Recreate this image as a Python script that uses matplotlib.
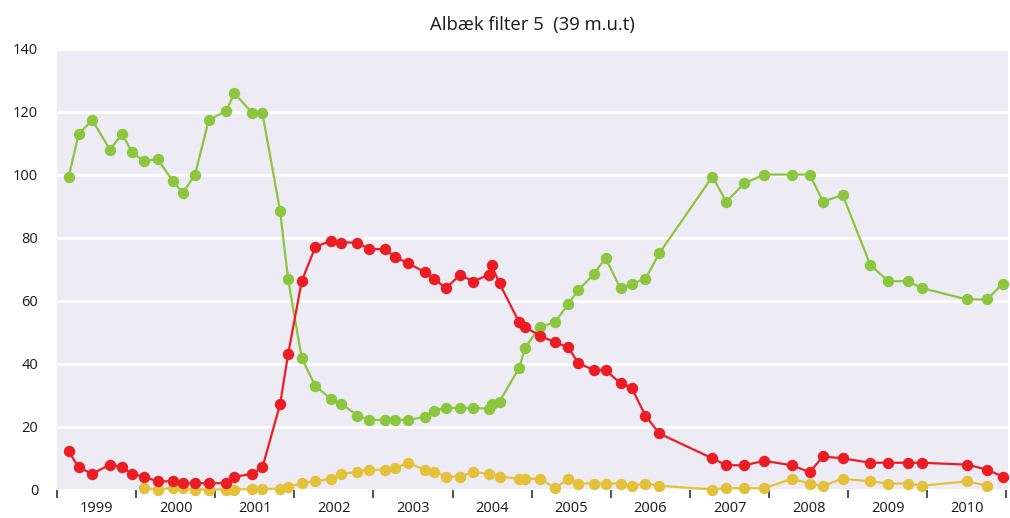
import matplotlib
matplotlib.use("Agg")
import matplotlib.pyplot as plt
import numpy as np

plt.rcParams['font.family'] = ['Open Sans', 'DejaVu Sans']

title = "Albæk filter 5  (39 m.u.t)"

dates = [1999.148, 1999.274, 1999.446, 1999.670, 1999.822, 1999.948,
         2000.096, 2000.273, 2000.467, 2000.593, 2000.745, 2000.918,
         2001.141, 2001.242, 2001.470, 2001.596, 2001.820, 2001.921,
         2002.094, 2002.266, 2002.465, 2002.595, 2002.797, 2002.945,
         2003.144, 2003.270, 2003.442, 2003.645, 2003.771, 2003.915,
         2004.092, 2004.264, 2004.459, 2004.492, 2004.593, 2004.842,
         2004.918, 2005.108, 2005.294, 2005.462, 2005.588, 2005.782,
         2005.933, 2006.123, 2006.262, 2006.436, 2006.613, 2007.283,
         2007.460, 2007.688, 2007.941, 2008.286, 2008.513, 2008.683,
         2008.930, 2009.281, 2009.508, 2009.752, 2009.934, 2010.503,
         2010.756, 2010.953]

green = [99.4, 113.0, 117.4, 108.0, 113.0, 107.2, 104.4, 105.0, 97.9, 94.3,
         100.1, 117.4, 120.4, 126.0, 119.6, 119.6, 88.5, 66.8, 41.7, 32.9,
         28.7, 27.3, 23.5, 22.1, 22.1, 22.1, 22.1, 23.1, 25.1, 25.9,
         25.9, 25.9, 25.7, 27.3, 27.9, 38.7, 45.1, 51.8, 53.1, 59.0,
         63.3, 68.4, 73.5, 63.9, 65.4, 66.9, 75.1, 99.4, 91.5, 97.3,
         100.1, 100.1, 100.1, 91.5, 93.6, 71.3, 66.2, 66.2, 64.0, 60.4,
         60.4, 65.4]

red = [12.1, 7.0, 5.0, 7.9, 7.0, 5.0, 4.0, 2.6, 2.6, 2.0,
       2.0, 2.0, 2.0, 4.0, 5.0, 7.0, 27.1, 43.0, 66.3, 77.1,
       79.1, 78.5, 78.5, 76.4, 76.4, 73.9, 71.9, 69.1, 67.0, 63.9,
       68.2, 66.1, 68.3, 71.3, 65.5, 53.1, 51.6, 48.8, 46.8, 45.2,
       40.2, 38.0, 38.0, 33.7, 32.4, 23.5, 17.8, 9.9, 7.7, 7.7,
       9.1, 7.7, 5.5, 10.5, 9.9, 8.5, 8.5, 8.5, 8.5, 7.9,
       6.3, 4.1]

yellow = [None, None, None, None, None, None, 0.5, 0.0, 0.5, 0.5,
          0.0, 0.0, 0.0, 0.0, 0.1, 0.1, 0.3, 0.8, 2.0, 2.6,
          3.4, 5.0, 5.6, 6.3, 6.3, 6.9, 8.4, 6.3, 5.6, 4.1,
          4.1, 5.6, 5.0, None, 4.1, 3.4, 3.4, 3.4, 0.4, 3.4,
          1.9, 1.9, 1.9, 1.9, 1.2, 1.9, 1.2, 0.0, 0.4, 0.4,
          0.4, 3.4, 1.9, 1.2, 3.4, 2.6, 1.9, 1.9, 1.2, 2.6,
          1.2, None]

years = [1999, 2000, 2001, 2002, 2003, 2004, 2005, 2006, 2007, 2008, 2009, 2010]
y_ticks = [0, 20, 40, 60, 80, 100, 120, 140]

series = [(green, '#8cc63f'), (yellow, '#e3c13b'), (red, '#ec1c24')]

fig = plt.figure(figsize=(10.10, 5.18), dpi=100)
ax = fig.add_axes([57/1010, 1 - 489.5/518, (1008 - 57)/1010, (489.5 - 49)/518])
ax.set_facecolor('#edecf5')

for vals, col in series:
    xs = [d for d, v in zip(dates, vals) if v is not None]
    ys = [v for v in vals if v is not None]
    ax.plot(xs, ys, color=col, lw=1.6, marker='o', ms=7.2, mec=col, mfc=col,
            zorder=3, clip_on=False)

ax.set_xlim(1999.0, 2011.02)
ax.set_ylim(0, 140)
ax.set_yticks(y_ticks)
ax.yaxis.grid(True, color='white', lw=2)
ax.set_axisbelow(True)
for s in ax.spines.values():
    s.set_visible(False)
ax.tick_params(axis='y', length=0, pad=13.5, labelsize=10.5, labelcolor='#1a1a1a')

ax.set_xticks([y for y in years] + [2011])
ax.set_xticklabels([])
ax.set_xticks([y + 0.5 for y in years], minor=True)
ax.set_xticklabels([str(y) for y in years], minor=True)
ax.tick_params(axis='x', which='major', length=6, width=1.2, color='#333333', direction='out')
ax.tick_params(axis='x', which='minor', length=0, pad=8, labelsize=10.5, labelcolor='#1a1a1a')

fig.text(532 / 1010, 1 - 25 / 518, title, ha='center', va='center', fontsize=13.3, color='#1a1a1a')

fig.savefig('out.png', dpi=100, facecolor='white')
